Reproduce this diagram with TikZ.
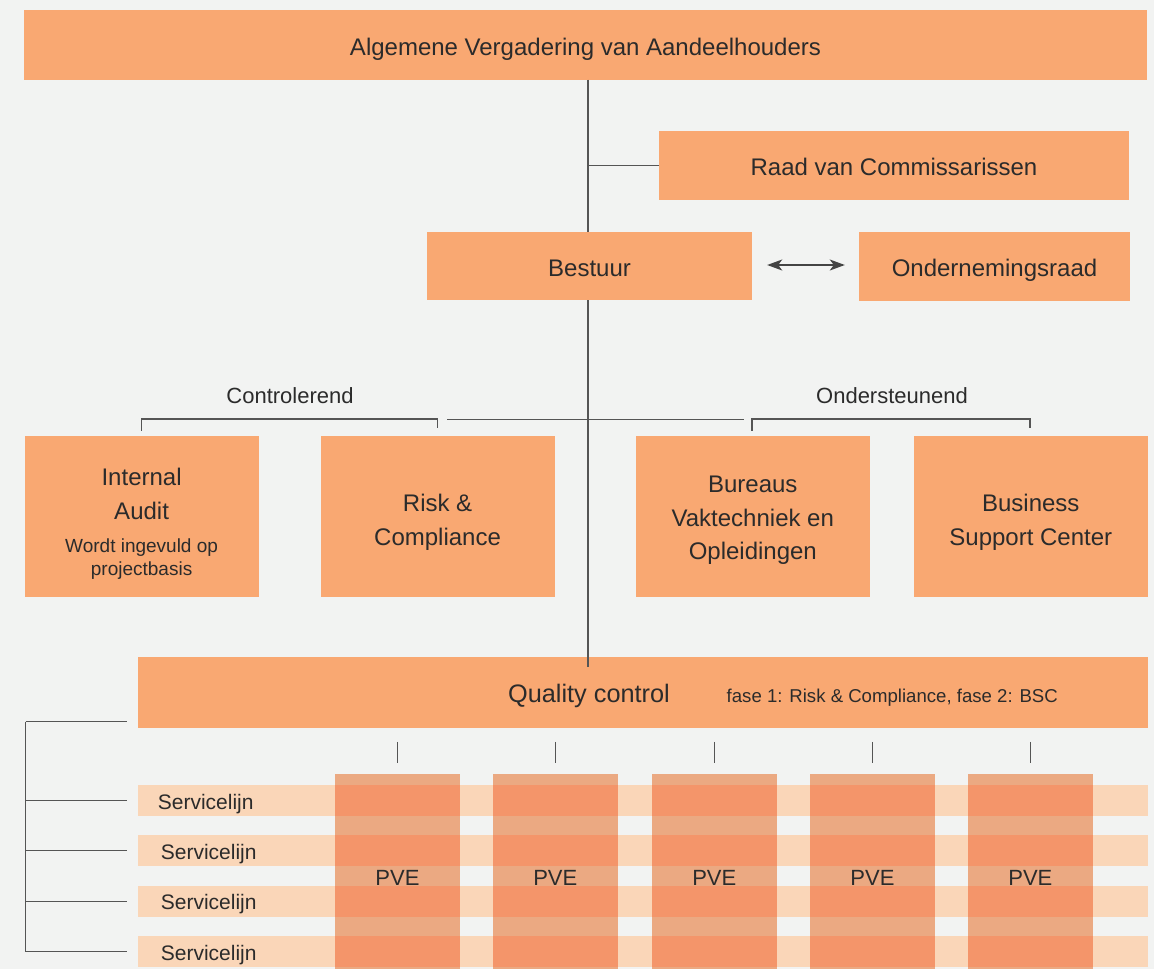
\documentclass[tikz,border=0pt]{standalone}
\usepackage{fontspec}
\setmainfont{Liberation Sans}
\usetikzlibrary{arrows.meta,calc}
\definecolor{bgc}{HTML}{F2F3F2}
\definecolor{boxc}{HTML}{F9A872}
\definecolor{bandc}{HTML}{FAD6B8}
\definecolor{colc}{HTML}{EBA982}
\definecolor{crossc}{HTML}{F4956A}
\definecolor{txtc}{HTML}{2B2B2B}
\definecolor{linec}{HTML}{555555}
\newcommand\fbig{\fontsize{24}{33.5}\selectfont}
\newcommand\fgrp{\fontsize{22}{26}\selectfont}
\newcommand\fsmall{\fontsize{19}{22.5}\selectfont}
\newcommand\ffase{\fontsize{18.6}{22}\selectfont}
\newcommand\fsl{\fontsize{21}{25}\selectfont}
\newcommand\fpve{\fontsize{22}{26}\selectfont}
\newcommand\fqc{\fontsize{25.3}{30}\selectfont}
\begin{document}
\begin{tikzpicture}[x=1pt,y=-1pt,
  orgbox/.style={fill=boxc, inner sep=0pt, text=txtc, align=center, font=\fbig, text height=20.5pt, text depth=0pt},
  txt/.style={inner sep=0pt, text=txtc, align=center},
  band/.style={fill=bandc, inner sep=0pt, minimum width=1010.2pt, minimum height=31pt},
  pvecol/.style={fill=colc, inner sep=0pt, minimum width=125pt, minimum height=196pt},
  conn/.style={draw=linec, line width=1.3pt},
  sq/.style={minimum width=234pt, minimum height=161pt}]
\fill[bgc] (0,0) rectangle (1154,969);
\useasboundingbox (0,0) rectangle (1154,969);

% top boxes
\node[orgbox, minimum width=1123pt, minimum height=69.5pt] (avh) at (585.5,44.75) {Algemene Vergadering van Aandeelhouders};
\node[orgbox, minimum width=470pt, minimum height=69pt] (rvc) at (894,165.5) {Raad van Commissarissen};
\node[orgbox, minimum width=325pt, minimum height=68pt] (bst) at (589.5,266) {Bestuur};
\node[orgbox, minimum width=271pt, minimum height=69pt] (or) at (994.5,266.5) {Ondernemingsraad};

% middle row
\node[orgbox, sq] (ia) at (141.6,516.5) {};
\node[txt, font=\fbig] (iat) at (141.6,494) {Internal\\Audit};
\node[txt, font=\fsmall] (ias) at (141.6,559) {Wordt ingevuld op\\projectbasis};
\node[orgbox, sq] (rc) at (437.6,516.5) {};
\node[txt, font=\fbig] (rct) at (437.6,522.5) {Risk \&\\Compliance};
\node[orgbox, sq] (bvo) at (752.8,516.5) {};
\node[txt, font=\fbig] (bvot) at (752.8,520.5) {Bureaus\\Vaktechniek en\\Opleidingen};
\node[orgbox, sq] (bsc) at (1030.8,516.5) {};
\node[txt, font=\fbig] (bsct) at (1030.8,522.5) {Business\\Support Center};

\node[txt, font=\fgrp] (ctl) at (290,396) {Controlerend};
\node[txt, font=\fgrp] (ost) at (892,396) {Ondersteunend};

% quality control
\node[orgbox, minimum width=1010.2pt, minimum height=70.7pt] (qc) at (642.9,692.3) {};
\node[txt, font=\fqc, anchor=base] (qct) at (589,702) {Quality control};
\node[txt, font=\ffase, anchor=base west] (fase) at (726.5,702) {fase 1: Risk \& Compliance, fase 2: BSC};

% service lines
\node[band] (sl1) at (642.9,800.5) {};
\node[band] (sl2) at (642.9,850.5) {};
\node[band] (sl3) at (642.9,901.3) {};
\node[band] (sl4) at (642.9,951.5) {};

% PVE columns
\foreach \i/\x in {1/397.5,2/555.3,3/714.3,4/872.5,5/1030.4}{
  \node[pvecol] (p\i) at (\x,872) {};
}
\foreach \i in {1,...,5}{
  \foreach \j in {1,...,4}{
    \fill[crossc] (p\i.west |- sl\j.north) rectangle (p\i.east |- sl\j.south);
  }
  \node[txt, font=\fpve] (p\i t) at (p\i |- 0,878) {PVE};
  \draw[conn] ($(qc.south -| p\i)+(0,14)$) -- ($(p\i.north)+(0,-10.7)$);
}
\node[txt, font=\fsl, anchor=west] (sl1t) at (157.7,804) {Servicelijn};
\node[txt, font=\fsl, anchor=west] (sl2t) at (160.7,854) {Servicelijn};
\node[txt, font=\fsl, anchor=west] (sl3t) at (160.7,904.5) {Servicelijn};
\node[txt, font=\fsl, anchor=west] (sl4t) at (160.7,955) {Servicelijn};

% connectors
\coordinate (mx) at (588,0);
\draw[conn] (avh.south -| mx) -- (bst.north -| mx);
\draw[conn] (mx |- rvc.west) -- (rvc.west);
\draw[conn] (bst.south -| mx) -- ($(qc.north -| mx)+(0,10)$);
\draw[draw=linec!80!black, line width=1.5pt, {Stealth[length=15pt,width=11pt,inset=4pt]}-{Stealth[length=15pt,width=11pt,inset=4pt]}] ($(bst.east)+(15,-1)$) -- ($(or.west)+(-14,-1.5)$);

\coordinate (hl) at (447,419.3);
\coordinate (hr) at (744,419.3);
\draw[conn] (hl) -- (hr);
\draw[conn] ($(ia.north)+(0,-5.3)$) -- ++(0,-11.4) -| ($(rc.north)+(0,-8.3)$);
\draw[conn] ($(bvo.north)+(-0.8,-5.3)$) -- ++(0,-11.4) -| ($(bsc.north)+(-0.8,-8.3)$);

\coordinate (lbt) at (25.6,721.7);
\draw[conn] (lbt) -- (lbt |- sl4);
\draw[conn] (lbt) -- ($(qc.west |- lbt)+(-10.4,0)$);
\foreach \j in {1,...,4}{
  \draw[conn] (lbt |- sl\j) -- ($(sl\j.west)+(-10.4,0)$);
}
\end{tikzpicture}
\end{document}
